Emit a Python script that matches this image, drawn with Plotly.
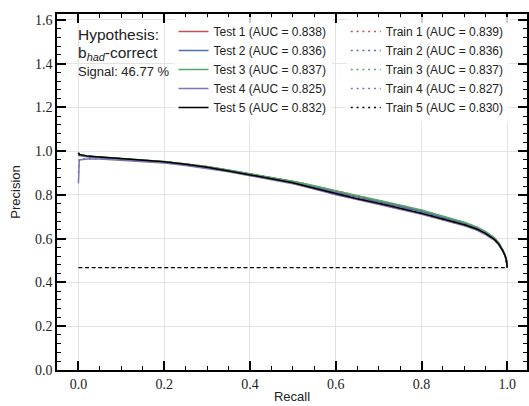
import plotly.graph_objects as go

# ---- data ----
recall = [0.0, 0.002, 0.01, 0.02, 0.05, 0.1, 0.15, 0.2, 0.25, 0.3, 0.35, 0.4, 0.45, 0.5,
          0.55, 0.6, 0.65, 0.7, 0.75, 0.8, 0.85, 0.9, 0.93, 0.95, 0.97, 0.98, 0.99, 0.995, 0.998, 1.0]

test1 = [0.990, 0.982, 0.980, 0.977, 0.972, 0.965, 0.958, 0.952, 0.941, 0.929, 0.913, 0.896, 0.879, 0.862,
         0.840, 0.816, 0.795, 0.773, 0.751, 0.728, 0.700, 0.672, 0.650, 0.629, 0.602, 0.580, 0.546, 0.524, 0.501, 0.4677]
test2 = [0.985, 0.980, 0.978, 0.975, 0.970, 0.963, 0.956, 0.950, 0.939, 0.927, 0.911, 0.894, 0.876, 0.858,
         0.836, 0.811, 0.790, 0.768, 0.746, 0.724, 0.697, 0.670, 0.648, 0.627, 0.600, 0.578, 0.545, 0.523, 0.501, 0.4677]
test3 = [0.992, 0.984, 0.981, 0.978, 0.973, 0.966, 0.959, 0.953, 0.942, 0.930, 0.914, 0.897, 0.880, 0.863,
         0.842, 0.818, 0.797, 0.776, 0.754, 0.731, 0.703, 0.675, 0.653, 0.632, 0.604, 0.582, 0.547, 0.525, 0.502, 0.4677]
test4 = [0.853, 0.960, 0.962, 0.964, 0.964, 0.959, 0.953, 0.946, 0.935, 0.922, 0.906, 0.888, 0.870, 0.851,
         0.827, 0.801, 0.779, 0.757, 0.735, 0.712, 0.685, 0.659, 0.638, 0.618, 0.593, 0.572, 0.540, 0.520, 0.499, 0.4677]
test5 = [0.993, 0.985, 0.982, 0.978, 0.973, 0.966, 0.959, 0.952, 0.940, 0.927, 0.910, 0.892, 0.874, 0.856,
         0.831, 0.806, 0.783, 0.762, 0.740, 0.716, 0.690, 0.664, 0.643, 0.623, 0.597, 0.576, 0.543, 0.522, 0.500, 0.4677]

train1 = [0.991, 0.983, 0.980, 0.977, 0.972, 0.965, 0.958, 0.952, 0.941, 0.929, 0.914, 0.897, 0.880, 0.863,
          0.841, 0.817, 0.796, 0.774, 0.752, 0.729, 0.701, 0.673, 0.651, 0.630, 0.602, 0.580, 0.546, 0.524, 0.501, 0.4677]
train2 = [0.986, 0.980, 0.978, 0.975, 0.970, 0.963, 0.956, 0.950, 0.939, 0.927, 0.911, 0.894, 0.876, 0.858,
          0.836, 0.811, 0.790, 0.768, 0.746, 0.724, 0.697, 0.670, 0.648, 0.627, 0.600, 0.578, 0.545, 0.523, 0.501, 0.4677]
train3 = [0.990, 0.983, 0.981, 0.978, 0.973, 0.966, 0.959, 0.953, 0.942, 0.930, 0.914, 0.897, 0.880, 0.863,
          0.841, 0.818, 0.797, 0.775, 0.753, 0.730, 0.702, 0.674, 0.652, 0.631, 0.603, 0.581, 0.547, 0.525, 0.502, 0.4677]
train4 = [0.900, 0.962, 0.964, 0.966, 0.966, 0.961, 0.955, 0.948, 0.937, 0.924, 0.908, 0.890, 0.872, 0.853,
          0.829, 0.803, 0.781, 0.759, 0.737, 0.714, 0.687, 0.661, 0.640, 0.620, 0.594, 0.573, 0.541, 0.521, 0.499, 0.4677]
train5 = [0.992, 0.984, 0.981, 0.977, 0.972, 0.965, 0.958, 0.951, 0.939, 0.926, 0.909, 0.891, 0.873, 0.855,
          0.830, 0.805, 0.782, 0.761, 0.739, 0.715, 0.689, 0.663, 0.642, 0.622, 0.596, 0.575, 0.542, 0.521, 0.500, 0.4677]

test_names = ["Test 1 (AUC = 0.838)", "Test 2 (AUC = 0.836)", "Test 3 (AUC = 0.837)",
              "Test 4 (AUC = 0.825)", "Test 5 (AUC = 0.832)"]
train_names = ["Train 1 (AUC = 0.839)", "Train 2 (AUC = 0.836)", "Train 3 (AUC = 0.837)",
               "Train 4 (AUC = 0.827)", "Train 5 (AUC = 0.830)"]
colors = ["#C44E52", "#4C72B0", "#55A868", "#8172B2", "#000000"]

signal_fraction = 0.4677
baseline_x = [0.0, 1.0]

x_ticks = [0.0, 0.2, 0.4, 0.6, 0.8, 1.0]
y_ticks = [0.0, 0.2, 0.4, 0.6, 0.8, 1.0, 1.2, 1.4, 1.6]

tests = [test1, test2, test3, test4, test5]
trains = [train1, train2, train3, train4, train5]

fig = go.Figure()

# baseline (signal fraction)
fig.add_trace(go.Scatter(x=baseline_x, y=[signal_fraction, signal_fraction], mode="lines",
                         line=dict(color="black", width=1.1, dash="4px,2.6px"),
                         showlegend=False, hoverinfo="skip"))

for name, vals, c in zip(train_names, trains, colors):
    fig.add_trace(go.Scatter(x=recall, y=vals, mode="lines", name=name,
                             line=dict(color=c, width=1.5, dash="2px,3.8px"), legend="legend2"))
for name, vals, c in zip(test_names, tests, colors):
    fig.add_trace(go.Scatter(x=recall, y=vals, mode="lines", name=name,
                             line=dict(color=c, width=1.5), legend="legend"))

W, H = 529, 406
L, R, T, B = 57, 0, 14, 36
pw, ph = W - L - R, H - T - B

def px(x):
    return (x - L) / pw

def py(y):
    return (H - B - y) / ph

tickfont = dict(family="Liberation Serif", size=14, color="#222")
axis_common = dict(
    showline=True, linecolor="black", linewidth=1.5, mirror="allticks",
    ticks="inside", ticklen=9, tickwidth=1.5, tickcolor="black",
    showgrid=True, gridcolor="#e3e3e3", gridwidth=1, zeroline=False,
    tickfont=tickfont, tickformat=".1f",
)

legend_font = dict(family="Liberation Sans", size=12, color="#222")

fig.update_layout(
    width=W, height=H,
    margin=dict(l=L, r=R, t=T, b=B),
    plot_bgcolor="white", paper_bgcolor="white",
    font=dict(family="Liberation Sans", color="#222"),
    xaxis=dict(range=[-0.05, 1.046], tickvals=x_ticks,
               minor=dict(dtick=0.05, tick0=0, ticks="inside", ticklen=4.5, tickwidth=1,
                          tickcolor="black", showgrid=False),
               title=dict(text="Recall", font=dict(family="Liberation Sans", size=13), standoff=1),
               **axis_common),
    yaxis=dict(range=[0, 1.627], tickvals=y_ticks,
               minor=dict(dtick=0.04, tick0=0, ticks="inside", ticklen=4.5, tickwidth=1,
                          tickcolor="black", showgrid=False),
               title=dict(text="Precision", font=dict(family="Liberation Sans", size=13), standoff=11),
               **axis_common),
    legend=dict(x=px(174), y=py(17), xanchor="left", yanchor="top",
                bgcolor="rgba(255,255,255,0.8)", borderwidth=0,
                font=legend_font, tracegroupgap=0),
    legend2=dict(x=px(347), y=py(17), xanchor="left", yanchor="top",
                 bgcolor="rgba(255,255,255,0.8)", borderwidth=0,
                 font=legend_font, tracegroupgap=0),
)

fig.add_annotation(xref="paper", yref="paper", x=px(76), y=py(35), xanchor="left", yanchor="middle",
                   text="Hypothesis:", showarrow=False,
                   font=dict(family="Liberation Sans", size=15.5, color="#222"))
fig.add_annotation(xref="paper", yref="paper", x=px(76), y=py(53), xanchor="left", yanchor="middle",
                   text="b<sub><i>had</i></sub>-correct", showarrow=False,
                   font=dict(family="Liberation Sans", size=15.5, color="#222"))
fig.add_annotation(xref="paper", yref="paper", x=px(76), y=py(72), xanchor="left", yanchor="middle",
                   text="Signal: 46.77 %", showarrow=False,
                   font=dict(family="Liberation Sans", size=13, color="#222"))

fig.write_html("out.html")
